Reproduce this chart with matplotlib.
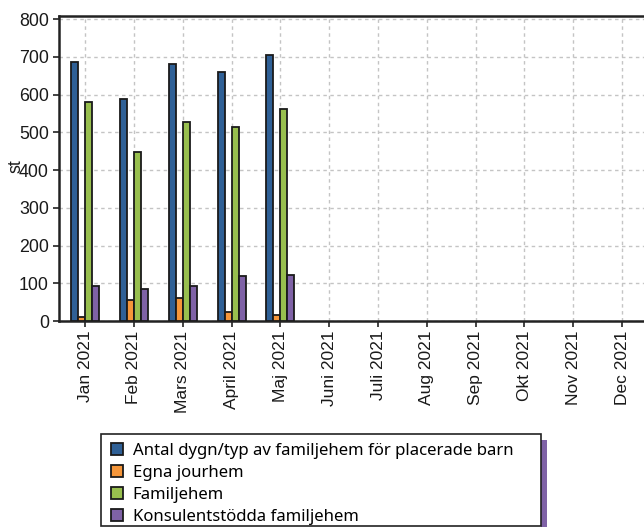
import numpy as np
import matplotlib
matplotlib.use("Agg")
import matplotlib.pyplot as plt
from matplotlib.patches import Rectangle

months = ["Jan 2021", "Feb 2021", "Mars 2021", "April 2021", "Maj 2021", "Juni 2021",
          "Juli 2021", "Aug 2021", "Sep 2021", "Okt 2021", "Nov 2021", "Dec 2021"]
series_names = ["Antal dygn/typ av familjehem för placerade barn", "Egna jourhem",
                "Familjehem", "Konsulentstödda familjehem"]
antal = [686, 588, 682, 660, 704, None, None, None, None, None, None, None]
egna = [10, 56, 61, 25, 16, None, None, None, None, None, None, None]
familjehem = [580, 447, 526, 513, 563, None, None, None, None, None, None, None]
konsulent = [92, 84, 92, 118, 123, None, None, None, None, None, None, None]
yticks = [0, 100, 200, 300, 400, 500, 600, 700, 800]

colors = ["#2f6096", "#f5963a", "#98bf4e", "#7f62a6"]
all_series = [antal, egna, familjehem, konsulent]

W, H = 644, 527
fig = plt.figure(figsize=(W / 100, H / 100), dpi=100)
fig.patch.set_facecolor("white")

# axes in pixel coordinates
ax_left, ax_right, ax_top, ax_bottom = 58.5, 648.7, 15.7, 321.0
ax = fig.add_axes([ax_left / W, 1 - ax_bottom / H, (ax_right - ax_left) / W, (ax_bottom - ax_top) / H])

x = np.arange(len(months))
bw = 0.143
offsets = [-1.5, -0.5, 0.5, 1.5]
for vals, col, off in zip(all_series, colors, offsets):
    v = np.array([np.nan if a is None else a for a in vals], dtype=float)
    ax.bar(x + off * bw, v, width=bw, color=col, edgecolor="#1a1a1a", linewidth=1.3, zorder=3)

ax.set_xlim(-0.545, len(months) - 1 + 0.545)
ax.set_ylim(0, 809)
ax.set_yticks(yticks)
ax.set_xticks(x)
ax.set_xticklabels(months, rotation=90, fontsize=12.5, family="Liberation Sans", color="#1a1a1a")
ax.set_yticklabels([str(t) for t in yticks], fontsize=12.8, family="Liberation Sans", color="#1a1a1a")
ax.tick_params(axis="both", direction="out", length=4, width=1.2, color="#222222", pad=3)
ax.grid(True, color="#c4c4c4", linestyle=(0, (2.5, 2.5)), linewidth=1.0, zorder=0)
ax.set_axisbelow(True)
for s in ax.spines.values():
    s.set_linewidth(1.8)
    s.set_color("#222222")

fig.text(16 / W, 1 - 166 / H, "st", rotation=90, fontsize=12.8, family="Liberation Sans",
         ha="center", va="center", color="#1a1a1a")

# legend box with purple shadow (pixel coordinates)
box_l, box_r, box_t, box_b = 100.5, 541.0, 434.0, 526.0
shadow = Rectangle((box_r, 0), 5.8, H - 440.0, transform=None,
                   facecolor="#7f62a6", edgecolor="none", zorder=4)
fig.add_artist(shadow)
box = Rectangle((box_l, H - box_b), box_r - box_l, box_b - box_t, transform=None,
                facecolor="white", edgecolor="#222222", linewidth=1.2, zorder=4.5)
fig.add_artist(box)

handles = [Rectangle((0, 0), 1, 1, facecolor=c, edgecolor="#1a1a1a", linewidth=1.3) for c in colors]
leg = fig.legend(handles, series_names, loc="upper left",
                 bbox_to_anchor=(103.5 / W, 1 - 435.5 / H), borderaxespad=0,
                 frameon=False, prop={"family": "Noto Sans", "size": 12.05},
                 handlelength=0.7, handleheight=0.7, handletextpad=0.6,
                 labelspacing=0.36, borderpad=0.45)
leg.set_zorder(6)

fig.savefig("out.png", dpi=100, facecolor="white")
